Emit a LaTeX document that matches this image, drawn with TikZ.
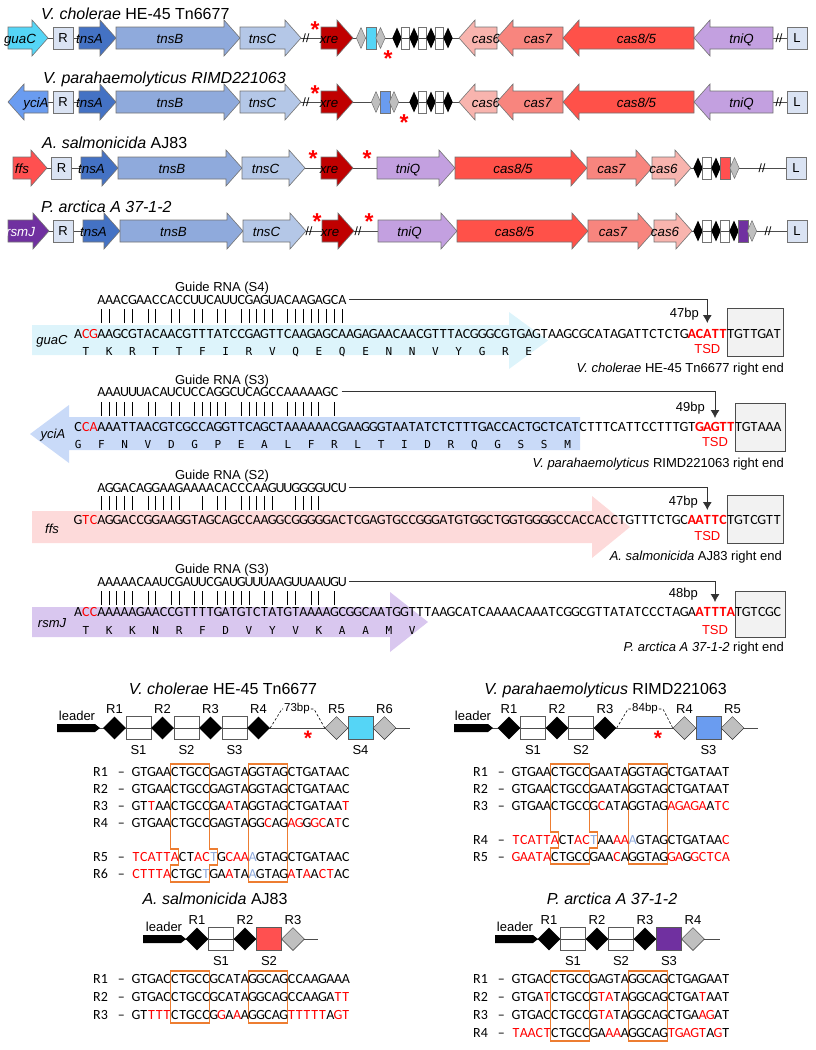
\documentclass[tikz,border=0pt]{standalone}
\usepackage{fontspec}
\setmainfont{Liberation Sans}
\newfontfamily\seqfont{Carlito}
\newfontfamily\aafont{DejaVu Sans Mono}
\usetikzlibrary{shapes.geometric,arrows.meta}

\definecolor{tnsAc}{HTML}{4472C4}
\definecolor{tnsBc}{HTML}{8FAADC}
\definecolor{tnsCc}{HTML}{B4C7E7}
\definecolor{boxc}{HTML}{DAE3F3}
\definecolor{xrec}{HTML}{C00000}
\definecolor{cas6c}{HTML}{F8B4AE}
\definecolor{cas7c}{HTML}{F8857E}
\definecolor{cas8c}{HTML}{FF5149}
\definecolor{tniQc}{HTML}{C3A0E0}
\definecolor{guaCc}{HTML}{55D5F6}
\definecolor{yciAc}{HTML}{6A9CF0}
\definecolor{ffsc}{HTML}{FF5050}
\definecolor{rsmJc}{HTML}{7030A0}
\definecolor{grayrep}{HTML}{BFBFBF}
\definecolor{seqred}{HTML}{FF0000}
\definecolor{seqblue}{HTML}{8EA9DB}
\definecolor{orangebox}{HTML}{ED7D31}
\definecolor{guaCbg}{HTML}{DDF4FB}
\definecolor{yciAbg}{HTML}{C9DAF8}
\definecolor{ffsbg}{HTML}{FDDADA}
\definecolor{rsmJbg}{HTML}{D9C7EF}
\definecolor{endgray}{HTML}{F2F2F2}

% one letter per fixed slot
\newlength\cw \setlength\cw{7.77pt}
\makeatletter
\def\sq@step#1{\ifx#1\relax\else\ifcat\noexpand#1\relax#1\else\hbox to\cw{\hss#1\hss}\fi\expandafter\sq@step\fi}
\newcommand\seqs[1]{\sq@step#1\relax}
\def\aa@step#1{\ifx#1\relax\else\hbox to3\cw{\hss#1\hss}\expandafter\aa@step\fi}
\newcommand\aas[1]{\aa@step#1\relax}
\def\mb@step#1{\ifx#1\relax\else\hbox to\cw{\hss\if#1|\vrule width 1pt height 14pt\fi\hss}\expandafter\mb@step\fi}
\newcommand\mbars[1]{\mb@step#1\relax}
\makeatother
\newcommand\cR{\color{seqred}}
\newcommand\cK{\color{black}\mdseries}
\newcommand\cB{\color{seqblue}}
\newcommand\tsd{\color{seqred}\bfseries}

% gene arrows: name, x1, x2, y, fill, label
\newcommand{\gener}[6]{%
  \filldraw[gene, fill=#5] (#2,#4-11) -- (#3-16,#4-11) -- (#3-16,#4-18) -- (#3,#4)
    -- (#3-16,#4+18) -- (#3-16,#4+11) -- (#2,#4+11) -- cycle;
  \node[glab] (#1) at ({(#2+#3-16)/2},#4+5) {#6};}
\newcommand{\genel}[6]{%
  \filldraw[gene, fill=#5] (#3,#4-11) -- (#2+16,#4-11) -- (#2+16,#4-18) -- (#2,#4)
    -- (#2+16,#4+18) -- (#2+16,#4+11) -- (#3,#4+11) -- cycle;
  \node[glab] (#1) at ({(#2+16+#3)/2},#4+5) {#6};}

\begin{document}
\begin{tikzpicture}[x=1pt,y=-1pt]
\tikzstyle{gene} = [draw=black!55, line width=0.6pt]
\tikzstyle{glab} = [font=\itshape\fontsize{13.3}{15}\selectfont, inner sep=0pt, anchor=base]
\tikzstyle{ttl} = [font=\fontsize{16}{19}\selectfont, inner sep=0pt, anchor=base west]
\tikzstyle{endbox} = [draw=black!55, fill=boxc, minimum width=20pt, minimum height=22pt, inner sep=0pt, font=\fontsize{13}{15}\selectfont]
\tikzstyle{bone} = [draw=black!70, line width=0.9pt]
\tikzstyle{brk} = [font=\fontsize{12}{14}\selectfont, inner sep=0pt]
\tikzstyle{redast} = [text=seqred, font=\bfseries\fontsize{23}{23}\selectfont, inner sep=0pt, anchor=base, yshift=-13pt]
\tikzstyle{rsm} = [diamond, fill=black, minimum width=9.5pt, minimum height=21pt, inner sep=0pt]
\tikzstyle{rsmg} = [rsm, fill=grayrep, draw=black!55, line width=0.5pt]
\tikzstyle{ssm} = [draw=black!55, minimum width=8pt, minimum height=22pt, inner sep=0pt]
\tikzstyle{txt} = [font=\fontsize{13}{15}\selectfont, inner sep=0pt, anchor=base]
\tikzstyle{seqn} = [font=\seqfont\fontsize{14}{16}\selectfont, inner sep=0pt, anchor=base west]
\tikzstyle{aan} = [font=\aafont\fontsize{11}{13}\selectfont, inner sep=0pt, anchor=base west]
\tikzstyle{endgraybox} = [draw=black!70, fill=endgray, line width=0.8pt, inner sep=0pt]
\tikzstyle{rbig} = [diamond, fill=black, minimum width=23pt, minimum height=23pt, inner sep=0pt]
\tikzstyle{rbigg} = [rbig, fill=grayrep, draw=black!80, line width=0.5pt]
\tikzstyle{sbig} = [draw=black!65, line width=0.7pt, minimum width=25pt, minimum height=23pt, inner sep=0pt]
\tikzstyle{obox} = [draw=orangebox, line width=1.1pt]
\tikzstyle{gapline} = [dash pattern=on 2.5pt off 2pt, line width=0.6pt]
\tikzset{edge/.style = {->, >={Latex[length=8pt,width=9pt]}, line width=0.8pt, draw=black!80}}

\useasboundingbox (0,0) rectangle (815,1050);

% ---- V. cholerae map
\node[ttl] (t-vc) at (41,19) {\textit{V. cholerae} HE-45 Tn6677};
\coordinate (vc-s) at (30,38); \coordinate (vc-e) at (790,38);
\draw[bone] (vc-s) -- (vc-e);
\gener{vc-guaC}{8}{48}{38}{guaCc}{guaC}
\node[endbox] (vc-R) at (63,38) {R};
\gener{vc-tnsA}{79}{116}{38}{tnsAc}{tnsA}
\gener{vc-tnsB}{116}{240}{38}{tnsBc}{tnsB}
\gener{vc-tnsC}{240}{301}{38}{tnsCc}{tnsC}
\node[brk] (vc-k1) at (306,38) {//};
\node[redast] (vc-x1) at (315,24) {*};
\gener{vc-xre}{321}{353}{38}{xrec}{xre}
\node[rsmg] (vc-r6) at (361,38) {};
\node[ssm, fill=guaCc, minimum width=10pt] (vc-s4) at (371,38) {};
\node[rsmg] (vc-r5) at (380.5,38) {};
\node[redast] (vc-x2) at (388,53) {*};
\node[rsm] (vc-r4) at (397,38) {};
\node[ssm] (vc-s3) at (405.5,38) {};
\node[rsm] (vc-r3) at (414,38) {};
\node[ssm] (vc-s2) at (422.5,38) {};
\node[rsm] (vc-r2) at (431,38) {};
\node[ssm] (vc-s1) at (439.5,38) {};
\node[rsm] (vc-r1) at (448,38) {};
\genel{vc-cas6}{459}{497}{38}{cas6c}{cas6}
\genel{vc-cas7}{497}{563}{38}{cas7c}{cas7}
\genel{vc-cas8}{563}{694}{38}{cas8c}{cas8/5}
\genel{vc-tniQ}{694}{773}{38}{tniQc}{tniQ}
\node[brk] (vc-k2) at (779,38) {//};
\node[endbox] (vc-L) at (797,38) {L};

% ---- V. parahaemolyticus map
\node[ttl] (t-vp) at (43,83) {\textit{V. parahaemolyticus RIMD221063}};
\coordinate (vp-s) at (30,102); \coordinate (vp-e) at (790,102);
\draw[bone] (vp-s) -- (vp-e);
\genel{vp-yciA}{8}{48}{102}{yciAc}{yciA}
\node[endbox] (vp-R) at (63,102) {R};
\gener{vp-tnsA}{79}{116}{102}{tnsAc}{tnsA}
\gener{vp-tnsB}{116}{240}{102}{tnsBc}{tnsB}
\gener{vp-tnsC}{240}{301}{102}{tnsCc}{tnsC}
\node[brk] (vp-k1) at (306,102) {//};
\node[redast] (vp-x1) at (315,88) {*};
\gener{vp-xre}{321}{353}{102}{xrec}{xre}
\node[rsmg] (vp-r5) at (376,102) {};
\node[ssm, fill=yciAc, minimum width=10pt] (vp-s3) at (385,102) {};
\node[rsmg] (vp-r4) at (394,102) {};
\node[redast] (vp-x2) at (404,117) {*};
\node[rsm] (vp-r3) at (414,102) {};
\node[ssm] (vp-s2) at (422.5,102) {};
\node[rsm] (vp-r2) at (431,102) {};
\node[ssm] (vp-s1) at (439.5,102) {};
\node[rsm] (vp-r1) at (448,102) {};
\genel{vp-cas6}{459}{497}{102}{cas6c}{cas6}
\genel{vp-cas7}{497}{563}{102}{cas7c}{cas7}
\genel{vp-cas8}{563}{694}{102}{cas8c}{cas8/5}
\genel{vp-tniQ}{694}{773}{102}{tniQc}{tniQ}
\node[brk] (vp-k2) at (779,102) {//};
\node[endbox] (vp-L) at (797,102) {L};

% ---- A. salmonicida map
\node[ttl] (t-as) at (42,148) {\textit{A. salmonicida} AJ83};
\coordinate (as-s) at (30,168); \coordinate (as-e) at (790,168);
\draw[bone] (as-s) -- (as-e);
\gener{as-ffs}{13}{47}{168}{ffsc}{ffs}
\node[endbox] (as-R) at (61.5,168) {R};
\gener{as-tnsA}{81}{118}{168}{tnsAc}{tnsA}
\gener{as-tnsB}{118}{242}{168}{tnsBc}{tnsB}
\gener{as-tnsC}{242}{305}{168}{tnsCc}{tnsC}
\node[redast] (as-x1) at (313,153) {*};
\gener{as-xre}{321}{353}{168}{xrec}{xre}
\node[redast] (as-x2) at (367,153) {*};
\gener{as-tniQ}{377}{455}{168}{tniQc}{tniQ}
\gener{as-cas8}{455}{587}{168}{cas8c}{cas8/5}
\gener{as-cas7}{587}{652}{168}{cas7c}{cas7}
\gener{as-cas6}{652}{691}{168}{cas6c}{cas6}
\node[rsm] (as-r1) at (698,168) {};
\node[ssm, minimum width=9pt] (as-s1) at (707,168) {};
\node[rsm] (as-r2) at (716,168) {};
\node[ssm, fill=ffsc, minimum width=10pt] (as-s2) at (725,168) {};
\node[rsmg] (as-r3) at (734.5,168) {};
\node[brk] (as-k1) at (762,168) {//};
\node[endbox] (as-L) at (796,168) {L};

% ---- P. arctica map
\node[ttl] (t-pa) at (41,212) {\textit{P. arctica A 37-1-2}};
\coordinate (pa-s) at (30,231); \coordinate (pa-e) at (790,231);
\draw[bone] (pa-s) -- (pa-e);
\gener{pa-rsmJ}{8}{49}{231}{rsmJc}{\color{white}rsmJ}
\node[endbox] (pa-R) at (63,231) {R};
\gener{pa-tnsA}{83}{120}{231}{tnsAc}{tnsA}
\gener{pa-tnsB}{120}{243}{231}{tnsBc}{tnsB}
\gener{pa-tnsC}{243}{306}{231}{tnsCc}{tnsC}
\node[brk] (pa-k1) at (309,231) {//};
\node[redast] (pa-x1) at (317,216) {*};
\gener{pa-xre}{322}{354}{231}{xrec}{xre}
\node[brk] (pa-k2) at (358,231) {//};
\node[redast] (pa-x2) at (369,216) {*};
\gener{pa-tniQ}{378}{457}{231}{tniQc}{tniQ}
\gener{pa-cas8}{457}{588}{231}{cas8c}{cas8/5}
\gener{pa-cas7}{588}{654}{231}{cas7c}{cas7}
\gener{pa-cas6}{654}{692}{231}{cas6c}{cas6}
\node[rsm] (pa-r1) at (698,231) {};
\node[ssm, minimum width=9pt] (pa-s1) at (707,231) {};
\node[rsm] (pa-r2) at (716,231) {};
\node[ssm, minimum width=9pt] (pa-s2) at (725,231) {};
\node[rsm] (pa-r3) at (734,231) {};
\node[ssm, fill=rsmJc, minimum width=10pt] (pa-s3) at (743,231) {};
\node[rsmg] (pa-r4) at (752,231) {};
\node[brk] (pa-k3) at (768,231) {//};
\node[endbox] (pa-L) at (797,231) {L};

% ---- target sites
\fill[guaCbg] (32,325) -- (509,325) -- (509,312) -- (548,340.5) -- (509,369) -- (509,355) -- (32,355) -- cycle;
\fill[yciAbg] (580,417) -- (69,417) -- (69,405) -- (30,434) -- (69,463) -- (69,450) -- (580,450) -- cycle;
\fill[ffsbg] (32,511) -- (592,511) -- (592,496) -- (630,527) -- (592,558) -- (592,543) -- (32,543) -- cycle;
\fill[rsmJbg] (32,607) -- (390,607) -- (390,592) -- (428,622) -- (390,652) -- (390,637) -- (32,637) -- cycle;
\node[endgraybox, minimum width=56pt, minimum height=48pt] (e1) at (755.5,332) {};
\node[endgraybox, minimum width=50pt, minimum height=48pt] (e2) at (760,427) {};
\node[endgraybox, minimum width=56pt, minimum height=48pt] (e3) at (755,519.5) {};
\node[endgraybox, minimum width=50pt, minimum height=46pt] (e4) at (760,614) {};

\node[txt] (gl1) at (222,291) {Guide RNA (S4)};
\node[seqn] (g1) at (97.3,304) {\seqs{AAACGAACCACCUUCAUUCGAGUACAAGAGCA}};
\node[seqn] (b1) at (97.3,323) {\mbars{||.||.||.||.||.||.|||||.||||||||}};
\node[seqn] (s1) at (74,338) {\seqs{A\cR CG\cK AAGCGTACAACGTTTATCCGAGTTCAAGAGCAAGAGAACAACGTTTACGGGCGTGAGTAAGCGCATAGATTCTCTG\tsd ACATT\cK TGTTGAT}};
\node[aan] (a1) at (74,355) {\aas{TKRTTFIRVQEQENNVYGRE}};
\node[glab, font=\itshape\fontsize{13}{15}\selectfont] (n1) at (52,344) {guaC};
\node[txt, text=seqred] (tsd1) at (707.3,353) {TSD};
\node[txt, anchor=base east] (bp1) at (699,317) {47bp};
\coordinate (t1) at (707.3,323);
\draw[edge, shorten <=3pt] (g1.east) -| (t1);
\node[txt, anchor=base east] (c1) at (784,372) {\textit{V. cholerae} HE-45 Tn6677 right end};

\node[txt] (gl2) at (222,384) {Guide RNA (S3)};
\node[seqn] (g2) at (97.3,396) {\seqs{AAAUUUACAUCUCCAGGCUCAGCCAAAAAGC}};
\node[seqn] (b2) at (97.3,416) {\mbars{|||||.||.||.|||||.|||||.|||||.|}};
\node[seqn] (s2) at (74,431) {\seqs{C\cR CA\cK AAATTAACGTCGCCAGGTTCAGCTAAAAAACGAAGGGTAATATCTCTTTGACCACTGCTCATCTTTCATTCCTTTGT\tsd GAGTT\cK TGTAAA}};
\node[aan] (a2) at (66.23,448) {\aas{GFNVDGPEALFRLTIDRQGSSM}};
\node[glab, font=\itshape\fontsize{13}{15}\selectfont] (n2) at (53,438) {yciA};
\node[txt, text=seqred] (tsd2) at (715,446) {TSD};
\node[txt, anchor=base east] (bp2) at (705,411) {49bp};
\coordinate (t2) at (715,418);
\draw[edge, shorten <=3pt] (g2.east) -| (t2);
\node[txt, anchor=base east] (c2) at (784,467) {\textit{V. parahaemolyticus} RIMD221063 right end};

\node[txt] (gl3) at (222,479) {Guide RNA (S2)};
\node[seqn] (g3) at (97.3,492) {\seqs{AGGACAGGAAGAAAACACCCAAGUUGGGGUCU}};
\node[seqn] (b3) at (97.3,510) {\mbars{|||||.|||||..|.||.|||||..||||...}};
\node[seqn] (s3) at (74,524) {\seqs{G\cR TC\cK AGGACCGGAAGGTAGCAGCCAAGGCGGGGGACTCGAGTGCCGGGATGTGGCTGGTGGGGCCACCACCTGTTTCTGC\tsd AATTC\cK TGTCGTT}};
\node[glab, font=\itshape\fontsize{13}{15}\selectfont] (n3) at (52,533) {ffs};
\node[txt, text=seqred] (tsd3) at (707.3,540) {TSD};
\node[txt, anchor=base east] (bp3) at (698,505) {47bp};
\coordinate (t3) at (707.3,510);
\draw[edge, shorten <=3pt] (g3.east) -| (t3);
\node[txt, anchor=base east] (c3) at (782,560) {\textit{A. salmonicida} AJ83 right end};

\node[txt] (gl4) at (222,573) {Guide RNA (S3)};
\node[seqn] (g4) at (97.3,586) {\seqs{AAAAACAAUCGAUUCGAUGUUUAAGUUAAUGU}};
\node[seqn] (b4) at (97.3,605) {\mbars{|||||.||.||.||.|||||.||.||.||.|.}};
\node[seqn] (s4) at (74,616) {\seqs{A\cR CC\cK AAAAAGAACCGTTTTGATGTCTATGTAAAAGCGGCAATGGTTTAAGCATCAAAACAAATCGGCGTTATATCCCTAGA\tsd ATTTA\cK TGTCGC}};
\node[aan] (a4) at (74,634) {\aas{TKKNRFDVYVKAAMV}};
\node[glab, font=\itshape\fontsize{13}{15}\selectfont] (n4) at (52,627) {rsmJ};
\node[txt, text=seqred] (tsd4) at (715,634) {TSD};
\node[txt, anchor=base east] (bp4) at (698,597) {48bp};
\coordinate (t4) at (715,602);
\draw[edge, shorten <=3pt] (g4.east) -| (t4);
\node[txt, anchor=base east] (c4) at (784,651) {\textit{P. arctica A 37-1-2} right end};

% ---- CRISPR arrays: V. cholerae
\node[ttl, anchor=base] (at-vc) at (223,694) {\textit{V. cholerae} HE-45 Tn6677};
\coordinate (vb-s) at (60,728); \coordinate (vb-e) at (410,728);
\draw[bone] (vb-s) -- (vb-e);
\fill (57,724) -- (95,724) -- (100,728) -- (95,732) -- (57,732) -- cycle;
\node[txt] (vb-ld) at (77,720) {leader};
\node[rbig] (vb-r1) at (114.5,728) {};
\node[sbig] (vb-s1) at (138.5,728) {};
\node[rbig] (vb-r2) at (162.5,728) {};
\node[sbig] (vb-s2) at (186.5,728) {};
\node[rbig] (vb-r3) at (210.5,728) {};
\node[sbig] (vb-s3) at (234.5,728) {};
\node[rbig] (vb-r4) at (258.5,728) {};
\node[rbigg] (vb-r5) at (336.5,728) {};
\node[sbig, fill=guaCc] (vb-s4) at (360.5,728) {};
\node[rbigg] (vb-r6) at (384.5,728) {};
\foreach \n/\x in {1/114.5,2/162.5,3/210.5,4/258.5,5/336.5,6/384.5}
  \node[txt] (vb-lr\n) at (\x,713) {R\n};
\foreach \n/\x in {1/138.5,2/186.5,3/234.5,4/360.5}
  \node[txt] (vb-ls\n) at (\x,754) {S\n};
\node[inner sep=1pt, font=\fontsize{11.5}{13}\selectfont] (vb-gap) at (297,709) {73bp};
\draw[gapline] (vb-r4.east) -- (282,709) -- (vb-gap.west);
\draw[gapline] (vb-gap.east) -- (314,709) -- (vb-r5.west);
\node[redast, font=\bfseries\fontsize{21}{21}\selectfont, yshift=-12pt] (vb-x) at (308,720) {*};

\draw[obox] (170.9,764) -- (209.7,764) -- (209.7,849) -- (217.5,849) -- (217.5,865) -- (209.7,865) -- (209.7,882)
  -- (170.9,882) -- (170.9,865) -- (178.7,865) -- (178.7,849) -- (170.9,849) -- cycle;
\draw[obox] (248.6,764) rectangle (287.4,882);
\node[seqn] (vq1l) at (93,776) {R1\kern10pt–};
\node[seqn] (vq1) at (132,776) {\seqs{GTGAACTGCCGAGTAGGTAGCTGATAAC}};
\node[seqn] (vq2l) at (93,793) {R2\kern10pt–};
\node[seqn] (vq2) at (132,793) {\seqs{GTGAACTGCCGAGTAGGTAGCTGATAAC}};
\node[seqn] (vq3l) at (93,810) {R3\kern10pt–};
\node[seqn] (vq3) at (132,810) {\seqs{GT\cR T\cK AACTGCCGA\cR A\cK TAGGTAGCTGATAA\cR T}};
\node[seqn] (vq4l) at (93,827) {R4\kern10pt–};
\node[seqn] (vq4) at (132,827) {\seqs{GTGAACTGCCGAGTAGG\cR C\cK AG\cR AG\cK G\cR GC\cK A\cR T\cK C}};
\node[seqn] (vq5l) at (93,861) {R5\kern10pt–};
\node[seqn] (vq5) at (132,861) {\seqs{\cR TCATTA\cK CT\cR AC\cB T\cK G\cR CAA\cB A\cK GTAGCTGATAAC}};
\node[seqn] (vq6l) at (93,878) {R6\kern10pt–};
\node[seqn] (vq6) at (132,878) {\seqs{\cR CTTTA\cK CTGC\cB T\cK GA\cR A\cK TA\cB A\cK GTAG\cR A\cK T\cR A\cK A\cR CT\cK AC}};

% ---- CRISPR arrays: V. parahaemolyticus
\node[ttl, anchor=base] (at-vp) at (605.5,694) {\textit{V. parahaemolyticus} RIMD221063};
\coordinate (wb-s) at (457,728); \coordinate (wb-e) at (758,728);
\draw[bone] (wb-s) -- (wb-e);
\fill (454,724) -- (488,724) -- (493,728) -- (488,732) -- (454,732) -- cycle;
\node[txt] (wb-ld) at (473,720) {leader};
\node[rbig] (wb-r1) at (509,728) {};
\node[sbig] (wb-s1) at (533,728) {};
\node[rbig] (wb-r2) at (557,728) {};
\node[sbig] (wb-s2) at (581,728) {};
\node[rbig] (wb-r3) at (605,728) {};
\node[rbigg] (wb-r4) at (684.5,728) {};
\node[sbig, fill=yciAc] (wb-s3) at (708.5,728) {};
\node[rbigg] (wb-r5) at (732.5,728) {};
\foreach \n/\x in {1/509,2/557,3/605,4/684.5,5/732.5}
  \node[txt] (wb-lr\n) at (\x,713) {R\n};
\foreach \n/\x in {1/533,2/581,3/708.5}
  \node[txt] (wb-ls\n) at (\x,754) {S\n};
\node[inner sep=1pt, font=\fontsize{11.5}{13}\selectfont] (wb-gap) at (645,709) {84bp};
\draw[gapline] (wb-r3.east) -- (628,709) -- (wb-gap.west);
\draw[gapline] (wb-gap.east) -- (663,709) -- (wb-r4.west);
\node[redast, font=\bfseries\fontsize{21}{21}\selectfont, yshift=-12pt] (wb-x) at (658,720) {*};

\draw[obox] (550.9,764) -- (589.7,764) -- (589.7,832) -- (597.5,832) -- (597.5,848) -- (589.7,848) -- (589.7,864)
  -- (550.9,864) -- (550.9,848) -- (558.7,848) -- (558.7,832) -- (550.9,832) -- cycle;
\draw[obox] (628.6,764) rectangle (667.4,864);
\node[seqn] (wq1l) at (473,776) {R1\kern10pt–};
\node[seqn] (wq1) at (512,776) {\seqs{GTGAACTGCCGAATAGGTAGCTGATAAT}};
\node[seqn] (wq2l) at (473,793) {R2\kern10pt–};
\node[seqn] (wq2) at (512,793) {\seqs{GTGAACTGCCGAATAGGTAGCTGATAAT}};
\node[seqn] (wq3l) at (473,810) {R3\kern10pt–};
\node[seqn] (wq3) at (512,810) {\seqs{GTGAACTGCCG\cR C\cK ATAGGTAG\cR AGAGA\cK A\cR TC}};
\node[seqn] (wq4l) at (473,844) {R4\kern10pt–};
\node[seqn] (wq4) at (512,844) {\seqs{\cR TCATTA\cK CT\cR AC\cB T\cK AA\cR AA\cB A\cK GTAGCTGATAA\cR C}};
\node[seqn] (wq5l) at (473,861) {R5\kern10pt–};
\node[seqn] (wq5) at (512,861) {\seqs{\cR GAATA\cK CTGCCGAA\cR C\cK AGGTAG\cR GA\cK G\cR GCTCA}};

% ---- CRISPR arrays: A. salmonicida
\node[ttl, anchor=base] (at-as) at (215,904) {\textit{A. salmonicida} AJ83};
\coordinate (ab-s) at (146,939); \coordinate (ab-e) at (318,939);
\draw[bone] (ab-s) -- (ab-e);
\fill (143,935) -- (181,935) -- (186,939) -- (181,943) -- (143,943) -- cycle;
\node[txt] (ab-ld) at (164,931) {leader};
\node[rbig] (ab-r1) at (197,939) {};
\node[sbig] (ab-s1) at (221,939) {};
\node[rbig] (ab-r2) at (245,939) {};
\node[sbig, fill=ffsc] (ab-s2) at (269,939) {};
\node[rbigg] (ab-r3) at (293,939) {};
\foreach \n/\x in {1/197,2/245,3/293}
  \node[txt] (ab-lr\n) at (\x,924) {R\n};
\foreach \n/\x in {1/221,2/269}
  \node[txt] (ab-ls\n) at (\x,965) {S\n};
\draw[obox] (170.9,971) rectangle (209.7,1023);
\draw[obox] (248.6,971) rectangle (287.4,1023);
\node[seqn] (aq1l) at (93,983) {R1\kern10pt–};
\node[seqn] (aq1) at (132,983) {\seqs{GTGACCTGCCGCATAGGCAGCCAAGAAA}};
\node[seqn] (aq2l) at (93,1001) {R2\kern10pt–};
\node[seqn] (aq2) at (132,1001) {\seqs{GTGACCTGCCGCATAGGCAGCCAAGA\cR TT}};
\node[seqn] (aq3l) at (93,1019) {R3\kern10pt–};
\node[seqn] (aq3) at (132,1019) {\seqs{GT\cR TTT\cK CTGCCG\cR G\cK A\cR A\cK AGGCAG\cR TTTTT\cK A\cR GT}};

% ---- CRISPR arrays: P. arctica
\node[ttl, anchor=base] (at-pa) at (612,904) {\textit{P. arctica A 37-1-2}};
\coordinate (pb-s) at (498,939); \coordinate (pb-e) at (720,939);
\draw[bone] (pb-s) -- (pb-e);
\fill (495,935) -- (533,935) -- (538,939) -- (533,943) -- (495,943) -- cycle;
\node[txt] (pb-ld) at (515,931) {leader};
\node[rbig] (pb-r1) at (549,939) {};
\node[sbig] (pb-s1) at (573,939) {};
\node[rbig] (pb-r2) at (597,939) {};
\node[sbig] (pb-s2) at (621,939) {};
\node[rbig] (pb-r3) at (645,939) {};
\node[sbig, fill=rsmJc] (pb-s3) at (669,939) {};
\node[rbigg] (pb-r4) at (693,939) {};
\foreach \n/\x in {1/549,2/597,3/645,4/693}
  \node[txt] (pb-lr\n) at (\x,924) {R\n};
\foreach \n/\x in {1/573,2/621,3/669}
  \node[txt] (pb-ls\n) at (\x,965) {S\n};
\draw[obox] (550.9,971) rectangle (589.7,1041);
\draw[obox] (628.6,971) rectangle (667.4,1041);
\node[seqn] (pq1l) at (473,983) {R1\kern10pt–};
\node[seqn] (pq1) at (512,983) {\seqs{GTGACCTGCCGAGTAGGCAGCTGAGAAT}};
\node[seqn] (pq2l) at (473,1001) {R2\kern10pt–};
\node[seqn] (pq2) at (512,1001) {\seqs{GTGA\cR T\cK CTGCCG\cR TA\cK TAGGCAGCTGA\cR T\cK AAT}};
\node[seqn] (pq3l) at (473,1019) {R3\kern10pt–};
\node[seqn] (pq3) at (512,1019) {\seqs{GTGACCTGCCG\cR TA\cK TAGGCAGCTGA\cR AG\cK AT}};
\node[seqn] (pq4l) at (473,1037) {R4\kern10pt–};
\node[seqn] (pq4) at (512,1037) {\seqs{\cR TAACT\cK CTGCCGA\cR AA\cK AGGCAG\cR TGAGT\cK A\cR G\cK T}};
\end{tikzpicture}
\end{document}
